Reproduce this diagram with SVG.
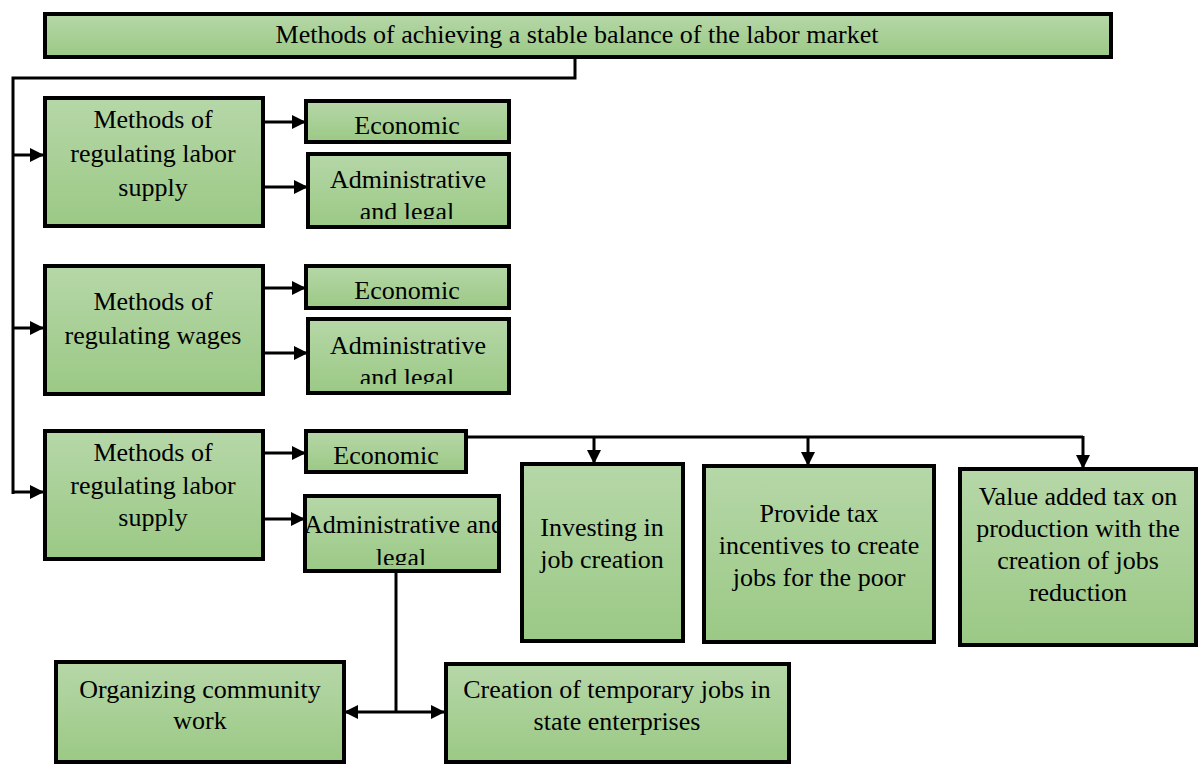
<svg xmlns="http://www.w3.org/2000/svg" width="1198" height="765" viewBox="0 0 1198 765">
<defs>
<linearGradient id="g" x1="0" y1="0" x2="0" y2="1">
<stop offset="0" stop-color="#b6d7a8"/>
<stop offset="1" stop-color="#9bc985"/>
</linearGradient>
<marker id="ah" markerWidth="14" markerHeight="14" refX="13" refY="7" orient="auto-start-reverse" markerUnits="userSpaceOnUse">
<path d="M0,0 L14,7 L0,14 Z" fill="#000"/>
</marker>
<clipPath id="c1"><rect x="309" y="155" width="199" height="64"/></clipPath>
<clipPath id="c2"><rect x="309" y="320" width="199" height="64"/></clipPath>
<clipPath id="c3"><rect x="300" y="497" width="197" height="68"/></clipPath>
</defs>
<style>
.box{fill:url(#g);stroke:#000;stroke-width:4}
.t{font-family:Liberation Serif, Times New Roman, serif;font-size:26px;fill:#000;text-anchor:middle}
.c{fill:none;stroke:#000;stroke-width:3}
.a{fill:none;stroke:#000;stroke-width:3;marker-end:url(#ah)}
</style>
<g id="connectors">
<polyline class="c" points="575,58 575,78 13,78 13,494"/>
<line class="a" x1="13" y1="155" x2="43" y2="155"/>
<line class="a" x1="13" y1="328" x2="43" y2="328"/>
<line class="a" x1="13" y1="492" x2="43" y2="492"/>
<line class="a" x1="263" y1="122" x2="305" y2="122"/>
<line class="a" x1="263" y1="187" x2="307" y2="187"/>
<line class="a" x1="263" y1="288" x2="305" y2="288"/>
<line class="a" x1="263" y1="353" x2="307" y2="353"/>
<line class="a" x1="263" y1="453" x2="305" y2="453"/>
<line class="a" x1="263" y1="519" x2="304" y2="519"/>
<polyline class="c" points="467,437 1083,437"/>
<line class="a" x1="594" y1="437" x2="594" y2="463"/>
<line class="a" x1="808" y1="437" x2="808" y2="465"/>
<line class="a" x1="1083" y1="436" x2="1083" y2="468"/>
<line class="c" x1="396" y1="572" x2="396" y2="712"/>
<line class="a" x1="396" y1="712" x2="345" y2="712"/>
<line class="a" x1="396" y1="712" x2="444" y2="712"/>
</g>
<g id="top">
<rect class="box" x="45" y="14" width="1066" height="43"/>
<text class="t" x="577" y="43">Methods of achieving a stable balance of the labor market</text>
</g>
<g id="supply1">
<rect class="box" x="45" y="98" width="218" height="128"/>
<text class="t" x="153" y="128">Methods of</text>
<text class="t" x="153" y="162">regulating labor</text>
<text class="t" x="153" y="196">supply</text>
</g>
<g id="eco1">
<rect class="box" x="306" y="101" width="203" height="41"/>
<text class="t" x="407" y="134">Economic</text>
</g>
<g id="adm1">
<rect class="box" x="308" y="154" width="201" height="73"/>
<g clip-path="url(#c1)">
<text class="t" x="408" y="188">Administrative</text>
<text class="t" x="407" y="220">and legal</text>
</g>
</g>
<g id="wages">
<rect class="box" x="45" y="266" width="218" height="128"/>
<text class="t" x="153" y="310">Methods of</text>
<text class="t" x="153" y="344">regulating wages</text>
</g>
<g id="eco2">
<rect class="box" x="306" y="266" width="203" height="42"/>
<text class="t" x="407" y="299">Economic</text>
</g>
<g id="adm2">
<rect class="box" x="308" y="319" width="201" height="74"/>
<g clip-path="url(#c2)">
<text class="t" x="408" y="354">Administrative</text>
<text class="t" x="407" y="386">and legal</text>
</g>
</g>
<g id="supply2">
<rect class="box" x="45" y="431" width="218" height="128"/>
<text class="t" x="153" y="461">Methods of</text>
<text class="t" x="153" y="494">regulating labor</text>
<text class="t" x="153" y="526">supply</text>
</g>
<g id="eco3">
<rect class="box" x="306" y="431" width="160" height="41"/>
<text class="t" x="386" y="464">Economic</text>
</g>
<g id="adm3">
<rect class="box" x="305" y="496" width="194" height="75"/>
<g clip-path="url(#c3)">
<text class="t" x="404" y="533">Administrative and</text>
<text class="t" x="401" y="566">legal</text>
</g>
</g>
<g id="invest">
<rect class="box" x="522" y="464" width="161" height="177"/>
<text class="t" x="602" y="536">Investing in</text>
<text class="t" x="602" y="568">job creation</text>
</g>
<g id="taxinc">
<rect class="box" x="704" y="466" width="230" height="176"/>
<text class="t" x="819" y="522">Provide tax</text>
<text class="t" x="819" y="554">incentives to create</text>
<text class="t" x="819" y="586">jobs for the poor</text>
</g>
<g id="vat">
<rect class="box" x="960" y="469" width="236" height="176"/>
<text class="t" x="1078" y="505">Value added tax on</text>
<text class="t" x="1078" y="537">production with the</text>
<text class="t" x="1078" y="569">creation of jobs</text>
<text class="t" x="1078" y="601">reduction</text>
</g>
<g id="community">
<rect class="box" x="56" y="662" width="288" height="100"/>
<text class="t" x="200" y="698">Organizing community</text>
<text class="t" x="200" y="729">work</text>
</g>
<g id="temporary">
<rect class="box" x="446" y="664" width="343" height="98"/>
<text class="t" x="617" y="698">Creation of temporary jobs in</text>
<text class="t" x="617" y="730">state enterprises</text>
</g>
</svg>
